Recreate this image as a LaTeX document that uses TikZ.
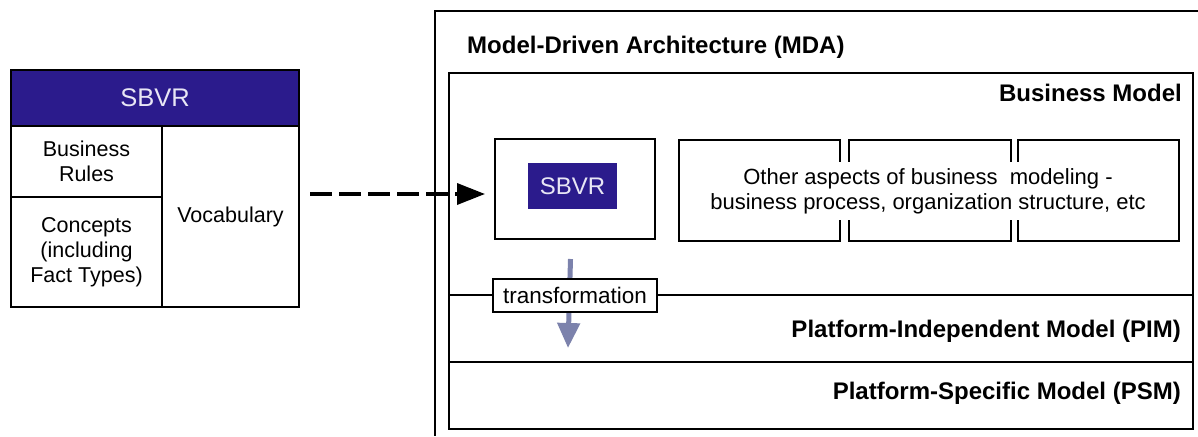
\documentclass[tikz,border=0pt]{standalone}
\usepackage{fontspec}
\setmainfont{Liberation Sans}
\usetikzlibrary{arrows.meta}
\definecolor{sbvrblue}{RGB}{43,27,140}
\definecolor{arrowgray}{RGB}{124,130,172}
\definecolor{lighttext}{RGB}{232,230,245}
\begin{document}
\begin{tikzpicture}[x=1pt,y=-1pt,
  box/.style={draw=black, line width=2pt},
  cell/.style={box, anchor=north west, inner sep=0pt, font=\fontsize{21.5}{25}\selectfont, align=center},
  big/.style={font=\fontsize{24}{28}\selectfont\bfseries, inner sep=0pt},
  small/.style={font=\fontsize{22}{25}\selectfont, align=center, inner sep=0pt},
  dasharrow/.style={line width=3.5pt, dash pattern=on 22pt off 7pt, -{Triangle[length=28pt,width=21pt]}},
  transarrow/.style={line width=5pt, draw=arrowgray, -{Triangle[length=25pt,width=22pt]}},
]
\useasboundingbox[fill=white] (0,0) rectangle (1198,436);

% ---- left SBVR table ----
\node[cell, fill=sbvrblue, text=lighttext, minimum width=288pt, minimum height=56pt, font=\fontsize{25.5}{28}\selectfont] (hdr) at (10,69) {SBVR};
\node[cell, minimum width=151pt, minimum height=71pt] (rules) at (10,125) {Business\\Rules};
\node[cell, minimum width=151pt, minimum height=110pt] (concepts) at (10,196) {Concepts\\(including\\Fact Types)};
\node[cell, minimum width=137pt, minimum height=181pt] (vocab) at (161,125) {Vocabulary};

% ---- MDA frame ----
\draw[box] (1198,11) -- (435,11) -- (435,436);
\node[big, anchor=base west] (mdatitle) at (467,53) {Model-Driven Architecture (MDA)};

\node[box, anchor=north west, minimum width=744pt, minimum height=356pt, inner sep=0pt] (bm) at (448,72) {};
\draw[box] (448,295) -- (1192,295);
\draw[line width=2.6pt] (448,362) -- (1192,362);
\node[big, anchor=base east] (bmtitle) at (1182,101) {Business Model};
\node[big, anchor=base east] (pimtitle) at (1181,337) {Platform-Independent Model (PIM)};
\node[big, anchor=base east] (psmtitle) at (1181,399) {Platform-Specific Model (PSM)};

% ---- SBVR inside business model ----
\node[box, anchor=north west, minimum width=160pt, minimum height=100pt, inner sep=0pt] (sbvrbox) at (494,138) {};
\node[fill=sbvrblue, text=lighttext, minimum width=89pt, minimum height=46pt, inner sep=0pt, font=\fontsize{24}{26}\selectfont] (sbvrlabel) at (572.5,186) {SBVR};

% ---- other aspects ----
\node[box, anchor=north west, minimum width=161pt, minimum height=101pt, inner sep=0pt] (o1) at (678,139) {};
\node[box, anchor=north west, minimum width=162pt, minimum height=101pt, inner sep=0pt] (o2) at (848,139) {};
\node[box, anchor=north west, minimum width=161pt, minimum height=101pt, inner sep=0pt] (o3) at (1017,139) {};
\node[small, fill=white, inner xsep=2pt, inner ysep=6pt] (othertext) at (928,191)
  {Other aspects of business\ \ modeling -\\business process, organization structure, etc};

% ---- connectors ----
\draw[dasharrow] ([xshift=10pt,yshift=-5pt]vocab.east |- sbvrbox.west) -- ([xshift=-9pt,yshift=-5pt]sbvrbox.west);

\coordinate (transend) at (568,348);
\draw[transarrow] ([xshift=-4.5pt,yshift=-19pt]sbvrbox.south) -- (transend);
\node[box, fill=white, minimum width=164pt, minimum height=33pt, inner sep=0pt, font=\fontsize{22.5}{25}\selectfont] (translabel) at (575,295.5) {transformation};
\end{tikzpicture}
\end{document}
